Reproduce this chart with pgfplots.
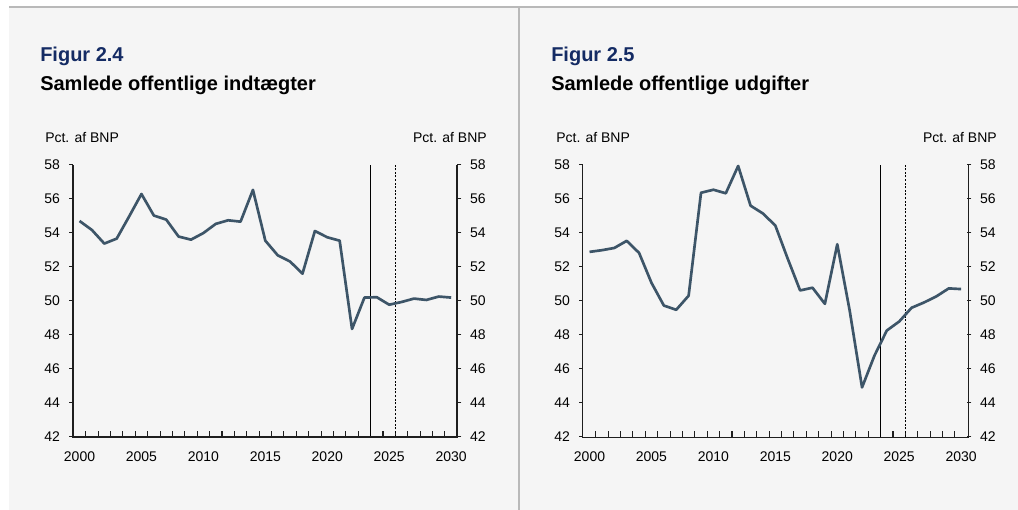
\documentclass[border=0pt]{standalone}
\usepackage{fontspec}
\setmainfont{Liberation Sans}
\usepackage{pgfplots}
\usepackage{pgfplotstable}
\pgfplotsset{compat=1.18}
\definecolor{bgpanel}{RGB}{245,245,245}
\definecolor{rulegray}{RGB}{185,185,185}
\definecolor{navy}{RGB}{20,43,100}
\definecolor{slate}{RGB}{61,85,104}
\definecolor{axisink}{RGB}{30,30,30}

% Pct. af BNP, 2000-2030
\pgfplotstableread{
year rev exp
2000 54.70 52.88
2001 54.17 52.98
2002 53.37 53.11
2003 53.66 53.53
2004 54.96 52.82
2005 56.29 51.06
2006 55.02 49.72
2007 54.78 49.47
2008 53.78 50.30
2009 53.60 56.36
2010 53.99 56.54
2011 54.53 56.33
2012 54.74 57.94
2013 54.66 55.60
2014 56.53 55.14
2015 53.54 54.43
2016 52.68 52.48
2017 52.31 50.61
2018 51.60 50.77
2019 54.11 49.82
2020 53.74 53.33
2021 53.54 49.43
2022 48.34 44.90
2023 50.19 46.77
2024 50.21 48.25
2025 49.77 48.78
2026 49.93 49.59
2027 50.13 49.90
2028 50.05 50.26
2029 50.25 50.73
2030 50.19 50.69
}\fiscal

\pgfplotsset{
  figpanel/.style={
    scale only axis, width=288pt, height=203.8pt, anchor=south west,
    xmin=1999.5, xmax=2030.5, ymin=42, ymax=58,
    ytick={42,44,...,58},
    axis line style={draw=none},
    tick style={axisink, line width=0.8pt},
    major tick length=3pt,
    tick align=outside,
    ticklabel style={font=\fontsize{10.5}{12}\selectfont},
    /pgf/number format/assume math mode=true,
  },
  mainside/.style={
    figpanel,
    xtick={2000,2005,...,2030},
    xticklabels={2000,2005,2010,2015,2020,2025,2030},
    major x tick style={draw=none},
    xtick pos=bottom, ytick pos=left,
    x tick label style={yshift=-4.5pt},
    y tick label style={xshift=-3.5pt},
  },
  otherside/.style={
    figpanel,
    xtick=\empty,
    ytick pos=right, yticklabel pos=right,
    y tick label style={xshift=3pt},
  },
}
\newcommand{\panelmarks}{%
  \pgfplotsinvokeforeach{2000,...,2029}{\draw[axisink, line width=0.8pt] (axis cs:##1+0.5,42) -- ++(0pt,4pt);}
  \draw[black, line width=0.75pt] (axis cs:2023.5,42) -- (axis cs:2023.5,58);
  \draw[black, line width=0.75pt, dash pattern=on 1.5pt off 1.2pt] (axis cs:2025.5,42) -- (axis cs:2025.5,58);
}

\begin{document}
\begin{tikzpicture}[x=0.75pt,y=0.75pt]
\path[use as bounding box] (0,0) rectangle (1018,510);
\fill[bgpanel] (9,0) rectangle (1018,503);
\draw[rulegray, line width=0.9pt] (9,503) -- (1018,503);
\draw[rulegray, line width=0.9pt] (519,0) -- (519,503);

% left panel
\node[anchor=base west, font=\fontsize{15}{18}\selectfont\bfseries, text=navy, inner sep=0pt] at (40,448) {Figur 2.4};
\node[anchor=base west, font=\fontsize{15}{18}\selectfont\bfseries, inner sep=0pt] at (40,419.5) {Samlede offentlige indtægter};
\node[anchor=base west, font=\fontsize{10.5}{12}\selectfont, inner sep=0pt] at (45,367) {Pct. af BNP};
\node[anchor=base east, font=\fontsize{10.5}{12}\selectfont, inner sep=0pt] at (487,367) {Pct. af BNP};

\begin{axis}[otherside, at={(55pt,55pt)}]
\end{axis}
\begin{axis}[mainside, at={(55pt,55pt)}]
\panelmarks
\addplot[slate, line width=2pt, line join=round] table[x=year, y=rev] {\fiscal};
\end{axis}
\draw[axisink, line width=1.5pt] (55pt,258.8pt) -- (55pt,55pt) -- (343pt,55pt) -- (343pt,258.8pt);

% right panel
\node[anchor=base west, font=\fontsize{15}{18}\selectfont\bfseries, text=navy, inner sep=0pt] at (551,448) {Figur 2.5};
\node[anchor=base west, font=\fontsize{15}{18}\selectfont\bfseries, inner sep=0pt] at (551,419.5) {Samlede offentlige udgifter};
\node[anchor=base west, font=\fontsize{10.5}{12}\selectfont, inner sep=0pt] at (556,367) {Pct. af BNP};
\node[anchor=base east, font=\fontsize{10.5}{12}\selectfont, inner sep=0pt] at (997,367) {Pct. af BNP};

\begin{axis}[otherside, at={(437.5pt,55pt)}]
\end{axis}
\begin{axis}[mainside, at={(437.5pt,55pt)}]
\panelmarks
\addplot[slate, line width=2pt, line join=round] table[x=year, y=exp] {\fiscal};
\end{axis}
\draw[axisink, line width=1pt] (436.8pt,258.8pt) -- (436.8pt,54.3pt) -- (726.2pt,54.3pt) -- (726.2pt,258.8pt);
\end{tikzpicture}
\end{document}
